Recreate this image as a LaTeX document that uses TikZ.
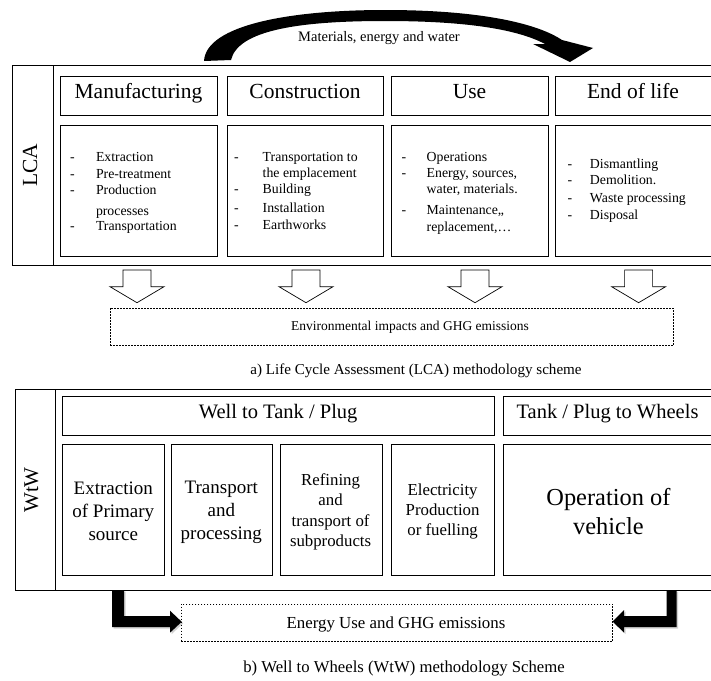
\documentclass[tikz,border=0pt]{standalone}
\usepackage{fontspec}
\setmainfont{Liberation Serif}
\usetikzlibrary{fit,calc}
\newcommand\myfs[2]{\fontsize{#1}{#2}\selectfont}
\newcommand\dsh[1]{\makebox[#1][l]{-}}
\begin{document}
\begin{tikzpicture}[x=1pt,y=-1pt,
  box/.style={draw=black, line width=0.9pt, inner sep=0pt, outer sep=0pt},
  dbox/.style={draw=black, line width=0.6pt, dash pattern=on 1.8pt off 1.2pt, inner sep=0pt, outer sep=0pt},
  txt/.style={inner sep=0pt, outer sep=0pt, text height=0.62em, text depth=0pt},
  hdr/.style={txt, font=\myfs{21.5}{24}},
  hdrw/.style={txt, font=\myfs{20.5}{24}},
  listtxt/.style={inner sep=0pt, outer sep=0pt, anchor=base west, font=\myfs{13.8}{16.3}},
  multi/.style={inner sep=0pt, outer sep=0pt, anchor=base},
  hollow/.style={draw=black, line width=0.7pt, fill=white},
  thick arrow/.style={fill=black},
  arrow shadow/.style={fill=black!30, opacity=0.6}
]
\useasboundingbox (0,0) rectangle (711,680);
\clip (0,0) rectangle (711,680);

% ---------- curved arrow ----------
\fill[black] (204,61) .. controls (206,25) and (290,10) .. (385,10)
   .. controls (475,10) and (535,22) .. (562,40)
   -- (593,48) -- (570,62) -- (533,44) -- (545,44)
   .. controls (515,28) and (460,21) .. (385,21)
   .. controls (300,21) and (238,30) .. (231,60) -- cycle;
\node[txt, font=\myfs{14.5}{16}] (mat) at (379,38) {Materials, energy and water};

% ---------- LCA block ----------
\node[box, fit={(12.7,65)(716,265.7)}] (lca) {};
\draw[line width=0.9pt] (53,65) -- (53,265.7);
\node[txt, rotate=90, font=\myfs{21.5}{24}] (lcalbl) at (34,165) {LCA};

\node[box, fit={(60,76.7)(217,115)}] (hm) {};
\node[box, fit={(227,76.7)(383,115)}] (hc) {};
\node[box, fit={(391,76.7)(548,115)}] (hu) {};
\node[box, fit={(555,76.7)(716,115)}] (he) {};
\node[hdr] (hmt) at (hm) {Manufacturing};
\node[hdr] (hct) at (hc) {Construction};
\node[hdr] (hut) at (hu) {Use};
\node[hdr] (het) at ($(he.west)+(78,0)$) {End of life};

\node[box, fit={(60,125)(217,256)}] (cm) {};
\node[box, fit={(227,125)(383,256)}] (cc) {};
\node[box, fit={(391,125)(548,256)}] (cu) {};
\node[box, fit={(555,125)(716,256)}] (ce) {};

\node[listtxt] (lm) at (70,161.8) {\begin{tabular}[t]{@{}l@{}}
\dsh{26pt}Extraction\\
\dsh{26pt}Pre-treatment\\
\dsh{26pt}Production\\[4.7pt]
\hspace*{26pt}processes\\[-1.3pt]
\dsh{26pt}Transportation
\end{tabular}};
\node[listtxt] (lc) at (234,161.2) {\begin{tabular}[t]{@{}l@{}}
\dsh{28.7pt}Transportation to\\
\hspace*{28.7pt}the emplacement\\
\dsh{28.7pt}Building\\[2.7pt]
\dsh{28.7pt}Installation\\
\dsh{28.7pt}Earthworks
\end{tabular}};
\node[listtxt] (lu) at (401.7,161.2) {\begin{tabular}[t]{@{}l@{}}
\dsh{25pt}Operations\\
\dsh{25pt}Energy, sources,\\
\hspace*{25pt}water, materials.\\[4.7pt]
\dsh{25pt}Maintenance,,\\
\hspace*{25pt}replacement,\ldots
\end{tabular}};
\node[listtxt] (le) at (567.7,168.5) {\begin{tabular}[t]{@{}l@{}}
\dsh{22.3pt}Dismantling\\
\dsh{22.3pt}Demolition.\\[1.7pt]
\dsh{22.3pt}Waste processing\\[0.7pt]
\dsh{22.3pt}Disposal
\end{tabular}};

% hollow arrows
\foreach \ax in {137,306,475,638.6} {
  \draw[hollow] (\ax-14,270) -- (\ax+14,270) -- (\ax+14,286.7) -- (\ax+27,286.7)
     -- (\ax,302.7) -- (\ax-27,286.7) -- (\ax-14,286.7) -- cycle;
}

\node[dbox, fit={(110,308)(673,345.7)}] (env) {};
\node[txt, font=\myfs{13.5}{16}] (envt) at (410,327) {Environmental impacts and GHG emissions};

\node[txt, font=\myfs{15.1}{18}] (capa) at (416,371) {a) Life Cycle Assessment (LCA) methodology scheme};

% ---------- WtW block ----------
\node[box, fit={(15,389.3)(716,590)}] (wtw) {};
\draw[line width=0.9pt] (55,389.3) -- (55,590);
\node[txt, rotate=90, font=\myfs{21}{24}] (wtwlbl) at (35,490) {WtW};

\node[box, fit={(62.3,396)(494,435)}] (w2t) {};
\node[box, fit={(503.3,396)(716,435)}] (t2w) {};
\node[hdrw] (w2tt) at (w2t) {Well to Tank / Plug};
\node[hdrw] (t2wt) at (607.5,415.5) {Tank / Plug to Wheels};

\node[box, fit={(62,444)(164,575.7)}] (b1) {};
\node[box, fit={(171,444)(272,575.7)}] (b2) {};
\node[box, fit={(280,444)(382,575.7)}] (b3) {};
\node[box, fit={(391,444)(494,575.7)}] (b4) {};
\node[box, fit={(503.4,444)(716,575.7)}] (b5) {};

\node[multi, font=\myfs{19}{23.3}] (b1t) at (113.3,494) {\begin{tabular}[t]{@{}c@{}}Extraction\\of Primary\\source\end{tabular}};
\node[multi, font=\myfs{19}{23.4}] (b2t) at (221.3,493) {\begin{tabular}[t]{@{}c@{}}Transport\\and\\processing\end{tabular}};
\node[multi, font=\myfs{16.8}{20.5}] (b3t) at (330.6,485) {\begin{tabular}[t]{@{}c@{}}Refining\\and\\transport of\\subproducts\end{tabular}};
\node[multi, font=\myfs{16.8}{20}] (b4t) at (442.6,495) {\begin{tabular}[t]{@{}c@{}}Electricity\\Production\\or fuelling\end{tabular}};
\node[multi, font=\myfs{24.4}{28.4}] (b5t) at (608.4,505.6) {\begin{tabular}[t]{@{}c@{}}Operation of\\vehicle\end{tabular}};

% thick L arrows
\fill[arrow shadow] (113.5,591.5) -- (125.5,591.5) -- (125.5,617.5) -- (171.5,617.5) -- (171.5,612.2) -- (183.2,623.3) -- (171.5,634.2) -- (171.5,628.5) -- (113.5,628.5) -- cycle;
\fill[thick arrow] (112,590) -- (124,590) -- (124,616) -- (170,616) -- (170,610.7) -- (181.7,621.8) -- (170,632.7) -- (170,627) -- (112,627) -- cycle;
\fill[arrow shadow] (668.2,591.5) -- (678.2,591.5) -- (678.2,628.5) -- (625.5,628.5) -- (625.5,634.2) -- (614.2,623) -- (625.5,611.5) -- (625.5,617.5) -- (668.2,617.5) -- cycle;
\fill[thick arrow] (666.7,590) -- (676.7,590) -- (676.7,627) -- (624,627) -- (624,632.7) -- (612.7,621.5) -- (624,610) -- (624,616) -- (666.7,616) -- cycle;

\node[dbox, fit={(181,604)(612.7,641)}] (euse) {};
\node[txt, font=\myfs{16.85}{20}] (euset) at (396,625) {Energy Use and GHG emissions};

\node[txt, font=\myfs{16.7}{20}] (capb) at (404,669) {b) Well to Wheels (WtW) methodology Scheme};
\end{tikzpicture}
\end{document}
